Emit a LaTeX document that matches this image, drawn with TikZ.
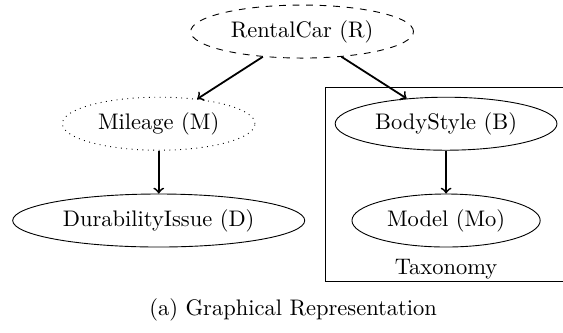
\documentclass[tikz,border=0pt]{standalone}
\usepackage{tikz}
\usetikzlibrary{positioning,shapes.geometric}

\begin{document}
\begin{tikzpicture}[node distance=6.7mm and 5mm,
  var/.style={draw, ellipse},
  link/.style={->, thick}]
\useasboundingbox (0,0) rectangle (8.797,5.203);
\node[var, dashed] (rc) at (4.72,4.71) {RentalCar (R)};
\node[var, dotted] (mil) at (2.48,3.27) {Mileage (M)};
\node[var] (bs) at (6.97,3.27) {BodyStyle (B)};
\node[var, below=of mil] (dur) {DurabilityIssue (D)};
\node[var, below=of bs] (mod) {Model (Mo)};
% taxonomy frame, open to the right
\draw (5.078,0.8125) rectangle (9.2,3.844);
\node (tax) at (6.97,0.99) {Taxonomy};
\draw[link] (rc) -- (mil);
\draw[link] (rc) -- (bs);
\draw[link] (mil) -- (dur);
\draw[link] (bs) -- (mod);
\node (cap) at (4.58,0.36) {(a) Graphical Representation};
\end{tikzpicture}
\end{document}
